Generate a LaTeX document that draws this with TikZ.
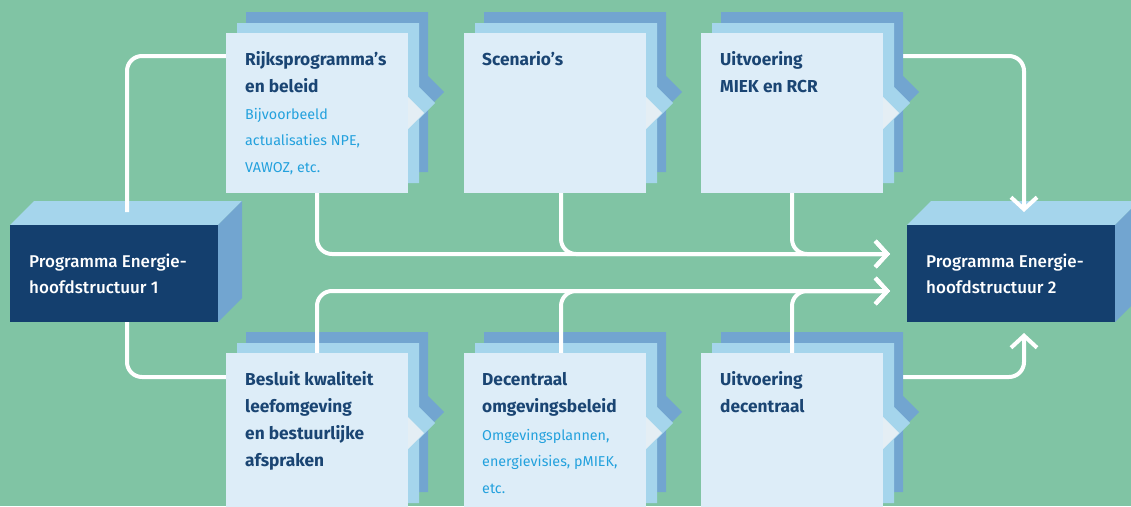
\documentclass[tikz,border=0pt]{standalone}
\usepackage{fontspec}
\setmainfont{Fira Sans}
\newfontfamily\medfont{Fira Sans Medium}
\usetikzlibrary{arrows.meta}
\definecolor{bggreen}{HTML}{80C4A4}
\definecolor{navy}{HTML}{143F6E}
\definecolor{lightblue}{HTML}{A5D5EC}
\definecolor{midblue}{HTML}{72A5D0}
\definecolor{paleblue}{HTML}{DDEDF8}
\definecolor{chevgrey}{HTML}{E4EEF4}
\definecolor{titleblue}{HTML}{1A4573}
\definecolor{subblue}{HTML}{23A1DD}
\pgfdeclarelayer{bglayer}
\pgfdeclarelayer{midlayer}
\pgfsetlayers{bglayer,midlayer,main}
\newcommand\txtlines[1]{\parbox[t]{190pt}{\raggedright #1}}
\newcommand\panellayer[3]{\fill[#3] (#1,#2) -- ++(182,0) -- ++(0,64) -- ++(16,16) -- ++(-16,16) -- ++(0,64) -- ++(-182,0) -- cycle;}
\newcommand\backlayers[2]{%
  \panellayer{#1+20}{#2-21}{midblue}
  \panellayer{#1+11}{#2-10}{lightblue}}
\tikzset{
  frontpanel/.style={anchor=north west, minimum width=182pt, minimum height=160pt, inner sep=0pt, outer sep=0pt, fill=paleblue},
  cubefront/.style={anchor=north west, minimum width=208pt, minimum height=97pt, inner sep=0pt, outer sep=0pt, fill=navy},
  ttl/.style={anchor=base west, inner sep=0pt, text=titleblue, font=\fontsize{17.3}{27}\selectfont\bfseries},
  subtxt/.style={anchor=base west, inner sep=0pt, text=subblue, font=\fontsize{14.3}{26.5}\selectfont},
  cubetxt/.style={anchor=base west, inner sep=0pt, text=white, font=\medfont\fontsize{17}{26}\selectfont},
  conn/.style={draw=white, line width=4pt, rounded corners=15pt},
  arr/.style={-{Straight Barb[length=12pt,width=26pt]}},
}
\begin{document}
\begin{tikzpicture}[x=1pt,y=-1pt]
\useasboundingbox (0,0) rectangle (1131,506);
\clip (0,0) rectangle (1131,506);
\begin{pgfonlayer}{bglayer}
\fill[bggreen] (0,0) rectangle (1131,506);
% cube 1
\fill[lightblue] (10,225) -- (34,201) -- (242,201) -- (218,225) -- cycle;
\fill[midblue] (218,225) -- (242,201) -- (242,298) -- (218,322) -- cycle;
\node[cubefront] (peh1) at (10,225) {};
% cube 2
\fill[lightblue] (907,225) -- (931,201) -- (1139,201) -- (1115,225) -- cycle;
\fill[midblue] (1115,225) -- (1139,201) -- (1139,298) -- (1115,322) -- cycle;
\node[cubefront] (peh2) at (907,225) {};
\end{pgfonlayer}
% front panels
\node[frontpanel] (rijks) at (226,33) {};
\node[frontpanel] (scen) at (464,33) {};
\node[frontpanel] (uitm) at (701,33) {};
\node[frontpanel] (besl) at (226,353) {};
\node[frontpanel] (dec) at (464,353) {};
\node[frontpanel] (uitd) at (701,353) {};
\foreach \p in {rijks,scen,uitm,besl,dec,uitd}{
  \fill[chevgrey] ([yshift=-64pt]\p.north east) -- ++(16,16) -- ++(-16,16) -- cycle;
}
% texts
\node[cubetxt] (peh1t) at (29,267) {\txtlines{Programma Energie-\\hoofdstructuur 1}};
\node[cubetxt] (peh2t) at (926,267) {\txtlines{Programma Energie-\\hoofdstructuur 2}};
\node[ttl] (rijkst) at (245,65) {\txtlines{Rijksprogramma’s\\en beleid}};
\node[subtxt] (rijkss) at (245,119) {\txtlines{Bijvoorbeeld\\actualisaties NPE,\\VAWOZ, etc.}};
\node[ttl] (scent) at (482,65) {\txtlines{Scenario’s}};
\node[ttl] (uitmt) at (720,65) {\txtlines{Uitvoering\\MIEK en RCR}};
\node[ttl] (beslt) at (245,385) {\txtlines{Besluit kwaliteit\\leefomgeving\\en bestuurlijke\\afspraken}};
\node[ttl] (dect) at (482,385) {\txtlines{Decentraal\\omgevingsbeleid}};
\node[subtxt] (decs) at (482,440) {\txtlines{Omgevingsplannen,\\energievisies, pMIEK,\\etc.}};
\node[ttl] (uitdt) at (720,385) {\txtlines{Uitvoering\\decentraal}};
% connectors behind panels
\begin{pgfonlayer}{bglayer}
\coordinate (c1top) at (127,212);
\coordinate (t1) at (890,254);
\coordinate (t2) at (890,291);
\coordinate (t3) at (1024,212);
\coordinate (t4) at (1024,333);
\draw[conn] (c1top) |- (rijks.west |- 0,56);
\draw[conn,arr] (rijks.south) |- (t1);
\draw[conn,arr] ([xshift=6pt]scen.south) |- (t1);
\draw[conn,arr] (uitm.south) |- (t1);
\draw[conn,arr] (uitm.east |- 0,56) -| (t3);
\draw[conn,arr] (uitd.east |- 0,377) -| (t4);
\end{pgfonlayer}
\begin{pgfonlayer}{midlayer}
\backlayers{226}{33}
\backlayers{464}{33}
\backlayers{701}{33}
\backlayers{226}{353}
\backlayers{464}{353}
\backlayers{701}{353}
\draw[conn] (c1top |- peh1.south) |- (besl.west |- 0,377);
\draw[conn,arr] (besl.north) |- (t2);
\draw[conn,arr] ([xshift=6pt]dec.north) |- (t2);
\draw[conn,arr] (uitd.north) |- (t2);
\end{pgfonlayer}
\end{tikzpicture}
\end{document}
